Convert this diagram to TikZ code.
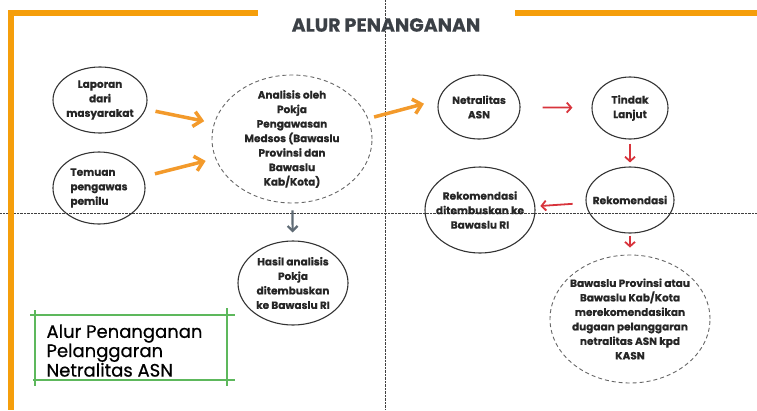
\documentclass[tikz,border=0pt]{standalone}
\usepackage{fontspec}
\setmainfont{Poppins}[BoldFeatures={FakeBold=0.5}]
\newfontfamily\capfont{Poppins}[FakeBold=0.6]
\usetikzlibrary{shapes.geometric,arrows.meta}

\definecolor{barorange}{HTML}{F59E0B}
\definecolor{arroworange}{HTML}{F39A2B}
\definecolor{arrowred}{HTML}{D8343C}
\definecolor{arrowgray}{HTML}{5F6B75}
\definecolor{titlegray}{HTML}{3B4046}
\definecolor{boxgreen}{HTML}{5DB85C}

\begin{document}
\begin{tikzpicture}[x=1pt, y=-1pt, every node/.style={text=black!85, font=\bfseries\fontsize{10.5}{14.5}\selectfont}]
    \tikzstyle{bubble}=[ellipse, draw=black!80, line width=1.1pt, inner sep=-12pt, align=center]
    \tikzstyle{dashbubble}=[bubble, draw=black!60, line width=0.9pt, dash pattern=on 4pt off 3pt]
    \tikzstyle{orangearrow}=[draw=arroworange, line width=3.5pt, -{Straight Barb[length=8pt, width=15pt]}]
    \tikzstyle{redarrow}=[draw=arrowred, line width=1.8pt, -{Straight Barb[length=4.5pt, width=10pt]}]
    \tikzstyle{grayarrow}=[draw=arrowgray, line width=2.2pt, -{Straight Barb[length=5pt, width=10pt]}]

    \useasboundingbox (0,0) rectangle (757,410);

    % Guide lines
    \draw[black!75, densely dotted] (385,0) -- (385,410);
    \draw[black!75, densely dotted] (0,213) -- (757,213);

    % Orange frame
    \fill[barorange] (8,10) rectangle (14,410);
    \fill[barorange] (8,10) rectangle (258,16);
    \fill[barorange] (515,10) rectangle (757,16);

    % Title
    \node[text=titlegray, font=\bfseries\fontsize{19}{22}\selectfont] (title) at (386,25) {ALUR PENANGANAN};

    % Inputs
    \node[bubble, minimum width=94pt, minimum height=66pt] (lap) at (100,100) {Laporan\\dari\\masyarakat};
    \node[bubble, minimum width=92pt, minimum height=72pt, align=left] (tem) at (99,188) {Temuan\\pengawas\\pemilu};

    % Analysis
    \node[dashbubble, minimum width=160pt, minimum height=128pt] (ana) at (292,139) {Analisis oleh\\Pokja\\Pengawasan\\Medsos (Bawaslu\\Provinsi dan\\Bawaslu\\Kab/Kota)};
    \node[bubble, minimum width=110pt, minimum height=84pt] (has) at (293,283) {Hasil analisis\\Pokja\\ditembuskan\\ke Bawaslu RI};

    % Right side flow
    \node[bubble, minimum width=82pt, minimum height=64pt] (net) at (479,107) {Netralitas\\ASN};
    \node[bubble, minimum width=76pt, minimum height=62pt] (tin) at (630,108) {Tindak\\Lanjut};
    \node[bubble, minimum width=88pt, minimum height=66pt] (rek) at (630,200) {Rekomendasi};
    \node[bubble, minimum width=110pt, minimum height=86pt] (rkt) at (480,210) {Rekomendasi\\ditembuskan ke\\Bawaslu RI};
    \node[dashbubble, minimum width=160pt, minimum height=128pt] (bwp) at (630,319) {Bawaslu Provinsi atau\\Bawaslu Kab/Kota\\merekomendasikan\\dugaan pelanggaran\\netralitas ASN kpd\\KASN};

    % Connect inputs to analysis
    \draw[orangearrow, shorten <=10pt, shorten >=10pt] (lap) -- (ana);
    \draw[orangearrow, shorten <=12pt, shorten >=10pt] (tem) -- (ana);
    \draw[orangearrow, shorten <=6pt, shorten >=15pt] (ana.15) -- (net.170);
    \draw[grayarrow, shorten <=7pt, shorten >=8pt] (ana) -- (has);

    % Connect right side
    \draw[redarrow, shorten <=22pt, shorten >=19pt] (net) -- (tin);
    \draw[redarrow, shorten <=4pt, shorten >=4pt] (tin) -- (rek);
    \draw[redarrow, shorten <=13pt, shorten >=5pt] (rek) -- (rkt);
    \draw[redarrow, shorten <=2pt, shorten >=7pt] (rek) -- (bwp);

    % Caption box
    \node[anchor=north west, align=left, text=black, font=\capfont\fontsize{18}{16.5}\selectfont] (cap) at (43,321) {Alur Penanganan\\Pelanggaran\\Netralitas ASN};
    \draw[boxgreen, line width=1.2pt] (30,315) -- (235,315);
    \draw[boxgreen, line width=1.2pt] (33,380) -- (235,380);
    \draw[boxgreen, line width=1.2pt] (35,310) -- (35,386);
    \draw[boxgreen, line width=1.2pt] (227,308) -- (227,386);
\end{tikzpicture}
\end{document}
